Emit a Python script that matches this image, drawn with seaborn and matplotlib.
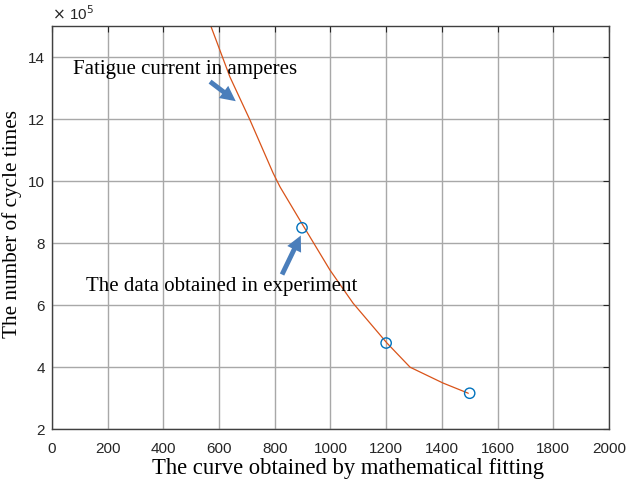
import numpy as np
import pandas as pd
import matplotlib
matplotlib.use("Agg")
import matplotlib.pyplot as plt
import seaborn as sns

# => Data (y values are in units of 10^5 cycles)
fit_x = [571, 639, 711, 794, 819, 894, 998, 1081, 1203, 1286, 1404, 1495]
fit_y = [15.0, 13.37, 11.98, 10.27, 9.82, 8.69, 7.14, 6.07, 4.78, 4.0, 3.49, 3.16]
exp_x = [898, 1200, 1500]
exp_y = [8.5, 4.78, 3.16]

x_ticks = np.arange(0, 2001, 200)
y_ticks = np.arange(2, 15, 2)

fit_df = pd.DataFrame({"current": fit_x, "cycles": fit_y})
exp_df = pd.DataFrame({"current": exp_x, "cycles": exp_y})

sns.set_style("white")
plt.rcParams["font.family"] = ["Liberation Sans", "DejaVu Sans"]

fig = plt.figure(figsize=(6.33, 4.79), dpi=100)
ax = fig.add_axes([0.082, 0.104, 0.880, 0.841])

# fitted curve + experiment points
sns.lineplot(data=fit_df, x="current", y="cycles", color="#d95319", linewidth=0.9,
             sort=False, ax=ax)
sns.scatterplot(data=exp_df, x="current", y="cycles", s=55, facecolors="none",
                edgecolor="#0072bd", linewidth=1.0, ax=ax, zorder=5)

ax.set_xlim(0, 2000)
ax.set_ylim(2, 15)
ax.set_xticks(x_ticks)
ax.set_yticks(y_ticks)
ax.grid(True, color="#a8a8a8", linewidth=1.0)
ax.set_axisbelow(True)
ax.tick_params(direction="in", length=4, top=True, right=True, labelsize=11,
               colors="#262626")
ax.tick_params(axis="x", pad=9)
ax.tick_params(axis="y", pad=5)
for s in ax.spines.values():
    s.set_color("#404040")
    s.set_linewidth(1.0)

serif = ["Liberation Serif", "DejaVu Serif"]
ax.set_xlabel("The curve obtained by mathematical fitting", family=serif,
              fontsize=16.3, color="black")
ax.xaxis.set_label_coords(0.531, -0.071)
ax.set_ylabel("The number of cycle times", family=serif, fontsize=15.3,
              color="black")
ax.yaxis.set_label_coords(-0.053, 0.51)

ax.text(0.0, 1.008, r"$\times$ 10$^5$", transform=ax.transAxes, fontsize=11,
        color="#262626", ha="left", va="bottom")

# annotations
arrow = dict(arrowstyle="simple,head_length=1.1,head_width=1.1,tail_width=0.35",
             color="#4a7ebb", lw=0)
ax.text(478, 13.6, "Fatigue current in amperes", family=serif, fontsize=15,
        color="black", ha="center", va="center")
ax.annotate("", xy=(668, 12.53), xytext=(560, 13.27), arrowprops=arrow)
ax.text(611, 6.59, "The data obtained in experiment", family=serif, fontsize=15,
        color="black", ha="center", va="center")
ax.annotate("", xy=(898, 8.33), xytext=(822, 6.91), arrowprops=arrow)

plt.savefig("out.png", dpi=100)
